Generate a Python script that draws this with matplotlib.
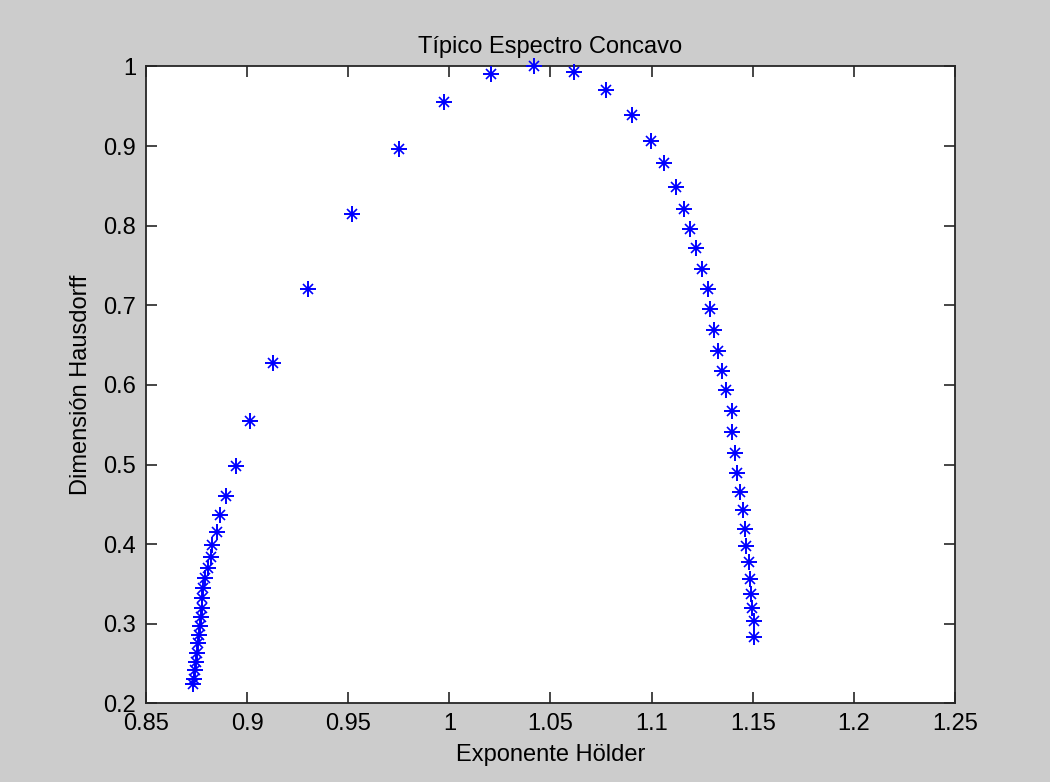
import matplotlib.pyplot as plt

# Spektrum-Daten
holder = [0.8734, 0.8737, 0.8742, 0.8747, 0.8751, 0.8759, 0.8762, 0.8767, 0.8772,
          0.8775, 0.8778, 0.8783, 0.8792, 0.8805, 0.8820, 0.8828, 0.8850, 0.8866,
          0.8896, 0.8944, 0.9014, 0.9130, 0.9300, 0.9520, 0.9750, 0.9975, 1.0204,
          1.0417, 1.0618, 1.0776, 1.0904, 1.0997, 1.1061, 1.1120, 1.1160, 1.1190,
          1.1220, 1.1250, 1.1280, 1.1290, 1.1310, 1.1330, 1.1350, 1.1370, 1.1396,
          1.1400, 1.1413, 1.1421, 1.1438, 1.1450, 1.1460, 1.1468, 1.1480, 1.1488,
          1.1490, 1.1496, 1.1508, 1.1508]
hausdorff = [0.224, 0.231, 0.242, 0.2525, 0.263, 0.2756, 0.286, 0.297, 0.308,
             0.3196, 0.332, 0.3447, 0.357, 0.370, 0.3844, 0.399, 0.4155, 0.4367,
             0.461, 0.4987, 0.555, 0.627, 0.720, 0.815, 0.896, 0.956, 0.9906,
             1.0, 0.9935, 0.970, 0.9395, 0.9068, 0.8784, 0.849, 0.821, 0.796,
             0.772, 0.746, 0.720, 0.695, 0.669, 0.643, 0.617, 0.594, 0.567,
             0.541, 0.515, 0.490, 0.466, 0.443, 0.419, 0.398, 0.378, 0.356,
             0.337, 0.320, 0.303, 0.284]

xticks = [0.85, 0.9, 0.95, 1, 1.05, 1.1, 1.15, 1.2, 1.25]
xticklabels = ['0.85', '0.9', '0.95', '1', '1.05', '1.1', '1.15', '1.2', '1.25']
yticks = [0.2, 0.3, 0.4, 0.5, 0.6, 0.7, 0.8, 0.9, 1]
yticklabels = ['0.2', '0.3', '0.4', '0.5', '0.6', '0.7', '0.8', '0.9', '1']

plt.rcParams['font.family'] = ['Liberation Sans', 'DejaVu Sans']

fig = plt.figure(figsize=(10.5, 7.82), dpi=100, facecolor='#cccccc')
ax = fig.add_axes([0.139, 0.1004, 0.7705, 0.8146])
ax.set_facecolor('white')

# MATLAB-Sternchen: '+' und 'x' uebereinander, nicht am Rand abgeschnitten
ax.plot(holder, hausdorff, linestyle='none', marker='+', markersize=12,
        markeredgewidth=1.4, color='#0000ff', clip_on=False, zorder=3)
ax.plot(holder, hausdorff, linestyle='none', marker='x', markersize=7,
        markeredgewidth=1.2, color='#0000ff', clip_on=False, zorder=3)

ax.set_xlim(0.85, 1.25)
ax.set_ylim(0.2, 1)
ax.set_xticks(xticks)
ax.set_xticklabels(xticklabels)
ax.set_yticks(yticks)
ax.set_yticklabels(yticklabels)
ax.tick_params(direction='in', length=8, width=1.2, top=True, right=True,
               labelsize=17, pad=7, color='#262626')
for s in ax.spines.values():
    s.set_linewidth(1.3)
    s.set_color('#262626')

ax.set_xlabel('Exponente Hölder', fontsize=17, labelpad=6)
ax.set_ylabel('Dimensión Hausdorff', fontsize=17, labelpad=8)
ax.set_title('Típico Espectro Concavo', fontsize=17, pad=10)

fig.savefig('out.png', dpi=100, facecolor=fig.get_facecolor())
